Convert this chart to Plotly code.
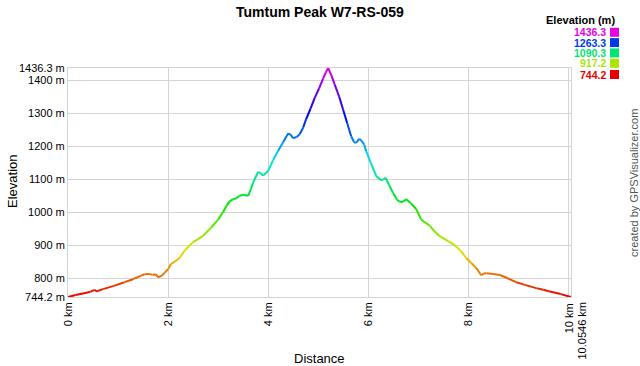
import colorsys
import plotly.graph_objects as go

# ---- data ----
distance_km = [0, 0.15, 0.3, 0.45, 0.53, 0.56, 0.7, 0.9, 1.13, 1.3, 1.45, 1.53, 1.62, 1.69, 1.75, 1.8,
               1.87, 1.93, 2.0, 2.06, 2.15, 2.23, 2.33, 2.43, 2.5, 2.6, 2.7, 2.86, 3.0, 3.1, 3.17, 3.23,
               3.3, 3.36, 3.43, 3.5, 3.6, 3.65, 3.7, 3.8, 3.85, 3.9, 4.0, 4.1, 4.2, 4.3, 4.4, 4.45, 4.5,
               4.57, 4.63, 4.7, 4.76, 4.85, 4.93, 5.02, 5.1, 5.15, 5.2, 5.27, 5.33, 5.42, 5.5, 5.58, 5.66,
               5.72, 5.76, 5.82, 5.86, 5.92, 5.96, 6.05, 6.16, 6.26, 6.3, 6.35, 6.42, 6.5, 6.58, 6.63, 6.7,
               6.76, 6.85, 6.96, 7.06, 7.15, 7.23, 7.33, 7.43, 7.6, 7.76, 7.86, 7.96, 8.06, 8.16, 8.26,
               8.31, 8.36, 8.5, 8.63, 8.8, 8.96, 9.15, 9.36, 9.5, 9.63, 9.85, 10.0546]
elevation_m = [744.2, 750, 755, 760, 766, 761, 768, 777, 789, 798, 808, 813, 814, 811, 813, 804,
               808, 817, 828, 844, 853, 862, 884, 900, 910, 919, 929, 954, 978, 1001, 1020, 1033,
               1040, 1042, 1050, 1053, 1050, 1068, 1090, 1122, 1118, 1111, 1125, 1158, 1186, 1212, 1238, 1235, 1224,
               1228, 1236, 1256, 1282, 1314, 1345, 1375, 1405, 1422, 1436.3, 1412, 1387, 1350, 1310, 1270, 1230,
               1212, 1210, 1222, 1218, 1205, 1185, 1150, 1110, 1097, 1100, 1104, 1082, 1058, 1038, 1032, 1032,
               1040, 1028, 1010, 978, 968, 960, 942, 928, 913, 897, 882, 862, 847, 832, 810,
               815, 816, 814, 811, 800, 789, 780, 771, 766, 761, 753, 744.2]

y_tick_vals = [744.2, 800, 900, 1000, 1100, 1200, 1300, 1400, 1436.3]
y_tick_text = ["744.2 m", "800 m", "900 m", "1000 m", "1100 m", "1200 m", "1300 m", "1400 m", "1436.3 m"]
x_tick_vals = [0, 2, 4, 6, 8, 10, 10.0546]
x_tick_text = ["0 km", "2 km", "4 km", "6 km", "8 km", "", ""]
end_labels = ["10 km", "10.0546 km"]
legend_vals = [1436.3, 1263.3, 1090.3, 917.2, 744.2]

E_MIN, E_MAX = 744.2, 1436.3
FONT = "Liberation Sans, Arial, sans-serif"

# page-pixel geometry of the plot area
PL, PR, PT, PB = 68, 571, 68, 297
W, H = 640, 366


def px(x):
    return (x - PL) / (PR - PL)


def py(y):
    return (PB - y) / (PB - PT)


def elev_color(v, val=0.9):
    h = 300.0 * (v - E_MIN) / (E_MAX - E_MIN) / 360.0
    r, g, b = colorsys.hsv_to_rgb(h, 1.0, val)
    return "rgb(%d,%d,%d)" % (round(r * 255), round(g * 255), round(b * 255))


fig = go.Figure()
for i in range(len(distance_km) - 1):
    mid = (elevation_m[i] + elevation_m[i + 1]) / 2
    fig.add_trace(go.Scatter(
        x=distance_km[i:i + 2], y=elevation_m[i:i + 2], mode="lines",
        line=dict(color=elev_color(mid), width=2), showlegend=False, hoverinfo="skip"))

grid = "#d4d4d4"
fig.update_layout(
    width=W, height=H,
    margin=dict(l=PL, r=W - PR, t=PT, b=H - PB, autoexpand=False),
    paper_bgcolor="white", plot_bgcolor="white",
    font=dict(family=FONT, size=11, color="black"),
    xaxis=dict(range=[0, 10.0546], tickvals=x_tick_vals, ticktext=x_tick_text, tickangle=-90,
               showgrid=True, gridcolor=grid, gridwidth=1, zeroline=False,
               showline=True, linecolor=grid, mirror=True, ticks="", tickfont=dict(size=11)),
    yaxis=dict(range=[E_MIN, E_MAX], tickvals=y_tick_vals, ticktext=y_tick_text,
               showgrid=True, gridcolor=grid, gridwidth=1, zeroline=False,
               showline=True, linecolor=grid, mirror=True, ticks="", tickfont=dict(size=11)),
)

anns = []


def ann(text, x, y, **kw):
    d = dict(text=text, x=px(x), y=py(y), xref="paper", yref="paper",
             xanchor="center", yanchor="middle", showarrow=False, font=dict(size=13))
    d.update(kw)
    anns.append(d)


ann("<b>Tumtum Peak W7-RS-059</b>", 320, 12, font=dict(size=14))
ann("Distance", 319, 358)
ann("Elevation", 12, 182, textangle=-90)
ann("created by GPSVisualizer.com", 634, 183, textangle=-90, font=dict(size=11, color="#555555"))
ann("<b>Elevation (m)</b>", 617, 20, xanchor="right", font=dict(size=11))

shapes = []
row_y = [32.3, 42.6, 52.9, 63.3, 74.5]
for v, yy in zip(legend_vals, row_y):
    col = elev_color(v)
    ann("<b>%s</b>" % v, 607, yy, xanchor="right", font=dict(size=10.5, color=col), borderpad=0)
    shapes.append(dict(type="rect", xref="paper", yref="paper",
                       x0=px(610), x1=px(619), y0=py(yy - 4.5), y1=py(yy + 4.5),
                       fillcolor=col, line=dict(width=0)))

# end-of-axis labels (offset so they do not overlap)
for lbl, xv, shift in zip(end_labels, [10, 10.0546], [1, 10]):
    anns.append(dict(text=lbl, x=xv, y=0, xref="x", yref="paper", textangle=-90,
                     xanchor="center", yanchor="top", yshift=-4, xshift=shift, showarrow=False,
                     font=dict(size=11)))

fig.update_layout(annotations=anns, shapes=shapes)
fig.write_html("out.html", config={"displayModeBar": False},
               post_script="document.body.style.margin='0';document.body.style.overflow='hidden';")
